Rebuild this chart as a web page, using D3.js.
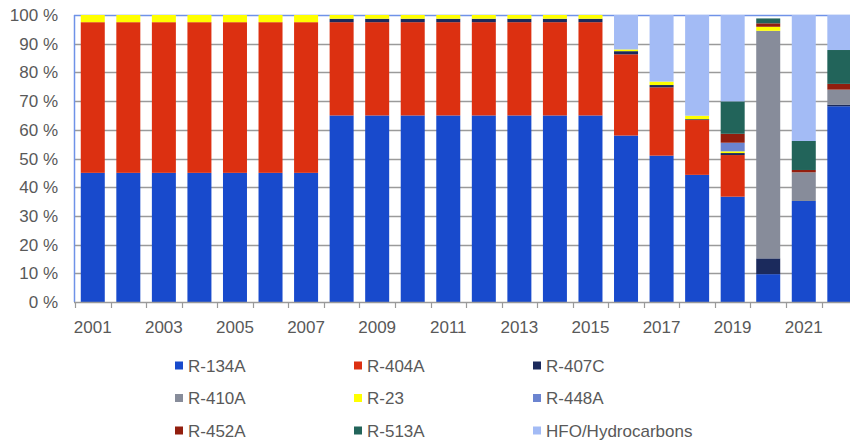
<!DOCTYPE html>
<html>
<head>
<meta charset="utf-8">
<script src="https://cdn.jsdelivr.net/npm/d3@7"></script>
<style>
  html, body { margin: 0; padding: 0; background: #fff; }
  svg { display: block; }
  text { font-family: "Liberation Sans", Arial, sans-serif; fill: #595959; }
</style>
</head>
<body>
<svg id="chart" width="850" height="443"></svg>
<script>
const years = ["2001","2002","2003","2004","2005","2006","2007","2008","2009","2010","2011",
               "2012","2013","2014","2015","2016","2017","2018","2019","2020","2021","2022"];
const yearLabels = ["2001","2003","2005","2007","2009","2011","2013","2015","2017","2019","2021"];
const yTicks = [0,10,20,30,40,50,60,70,80,90,100];

const seriesNames = ["R-134A","R-404A","R-407C","R-410A","R-23","R-448A","R-452A","R-513A","HFO/Hydrocarbons"];
const seriesColors = ["#184ACC","#DC3011","#1B2A5C","#878C9A","#FFFF00","#6B84D0","#921E0E","#22645A","#A3BBF5"];

const r134a = [45,45,45,45,45,45,45,65,65,65,65,65,65,65,65,58,51,44.3,36.7,9.7,35.2,68.2];
const r404a = [52.5,52.5,52.5,52.5,52.5,52.5,52.5,32.5,32.5,32.5,32.5,32.5,32.5,32.5,32.5,28.3,23.8,19.1,14.5,0,0,0];
const r407c = [0,0,0,0,0,0,0,1.2,1.2,1.2,1.2,1.2,1.2,1.2,1.2,1.1,0.8,0.3,0.7,5.5,0,0.6];
const r410a = [0,0,0,0,0,0,0,0,0,0,0,0,0,0,0,0,0,0,0,79.3,10,5.2];
const r23   = [2.5,2.5,2.5,2.5,2.5,2.5,2.5,1.3,1.3,1.3,1.3,1.3,1.3,1.3,1.3,0.6,1.2,1.2,0.6,1.4,0,0];
const r448a = [0,0,0,0,0,0,0,0,0,0,0,0,0,0,0,0,0,0,3,0,0,0];
const r452a = [0,0,0,0,0,0,0,0,0,0,0,0,0,0,0,0,0,0,3.1,1.2,0.8,2];
const r513a = [0,0,0,0,0,0,0,0,0,0,0,0,0,0,0,0,0,0,11.3,1.7,10.1,11.8];
const hfo   = [0,0,0,0,0,0,0,0,0,0,0,0,0,0,0,12,23.2,35.1,30.1,0,43.9,12.2];

const seriesValues = [r134a,r404a,r407c,r410a,r23,r448a,r452a,r513a,hfo];

const svg = d3.select("#chart");
const plotLeft = 75, plotTop = 15, plotBottom = 302, step = 35.55;
const plotRight = plotLeft + years.length * step;

const x = d3.scaleBand().domain(years).range([plotLeft, plotRight])
  .paddingInner(1 - 24 / step).paddingOuter((1 - 24 / step) / 2);
const y = d3.scaleLinear().domain([0, 100]).range([plotBottom, plotTop]);

// table for stacking
const table = years.map((yr, i) => {
  const row = { year: yr };
  seriesNames.forEach((s, k) => row[s] = seriesValues[k][i]);
  return row;
});
const stack = d3.stack().keys(seriesNames)(table);

// gridlines
svg.append("g").selectAll("line")
  .data(yTicks.filter(t => t > 0 && t < 100))
  .join("line")
  .attr("x1", plotLeft - 1).attr("x2", 850)
  .attr("y1", d => Math.round(y(d)) + 0.5).attr("y2", d => Math.round(y(d)) + 0.5)
  .attr("stroke", "#9a9a9a").attr("stroke-width", 1.6);

// plot border (top + left)
svg.append("line").attr("x1", plotLeft - 1).attr("x2", 850)
  .attr("y1", plotTop + 0.5).attr("y2", plotTop + 0.5)
  .attr("stroke", "#6F92E8").attr("stroke-width", 1.5);
svg.append("line").attr("x1", plotLeft - 0.5).attr("x2", plotLeft - 0.5)
  .attr("y1", plotTop).attr("y2", plotBottom)
  .attr("stroke", "#6F92E8").attr("stroke-width", 1.5);

// bars
svg.append("g").selectAll("g")
  .data(stack)
  .join("g")
  .attr("fill", (d, i) => seriesColors[i])
  .selectAll("rect")
  .data(d => d.filter(p => p[1] - p[0] > 0))
  .join("rect")
  .attr("x", d => x(d.data.year))
  .attr("width", x.bandwidth())
  .attr("y", d => y(d[1]))
  .attr("height", d => y(d[0]) - y(d[1]));

// x axis
const xAxisG = svg.append("g");
xAxisG.append("line").attr("x1", plotLeft - 1).attr("x2", 850)
  .attr("y1", plotBottom + 0.5).attr("y2", plotBottom + 0.5)
  .attr("stroke", "#9a9a9a").attr("stroke-width", 1.5);
const boundaries = years.map(yr => x(yr) - x.step() * x.paddingInner() / 2);
xAxisG.selectAll("line.tick").data(boundaries).join("line")
  .attr("class", "tick")
  .attr("x1", d => Math.round(d) + 0.5).attr("x2", d => Math.round(d) + 0.5)
  .attr("y1", plotBottom).attr("y2", plotBottom + 6)
  .attr("stroke", "#9a9a9a").attr("stroke-width", 1.2);
xAxisG.selectAll("text").data(yearLabels).join("text")
  .attr("x", d => x(d) + x.bandwidth() / 2)
  .attr("y", 333)
  .attr("text-anchor", "middle")
  .attr("font-size", 17)
  .text(d => d);

// y axis labels
svg.append("g").selectAll("text").data(yTicks).join("text")
  .attr("x", 58)
  .attr("y", d => y(d) + 6)
  .attr("text-anchor", "end")
  .attr("font-size", 17)
  .text(d => d + " %");

// legend
const legend = svg.append("g");
const colX = [175, 354, 533], rowY = [365.5, 398, 430.5];
seriesNames.forEach((name, i) => {
  const cx = colX[i % 3], cy = rowY[Math.floor(i / 3)];
  legend.append("rect").attr("x", cx).attr("y", cy - 4).attr("width", 8).attr("height", 8)
    .attr("fill", seriesColors[i]);
  legend.append("text").attr("x", cx + 13).attr("y", cy + 6)
    .attr("font-size", 17).text(name);
});
</script>
</body>
</html>
